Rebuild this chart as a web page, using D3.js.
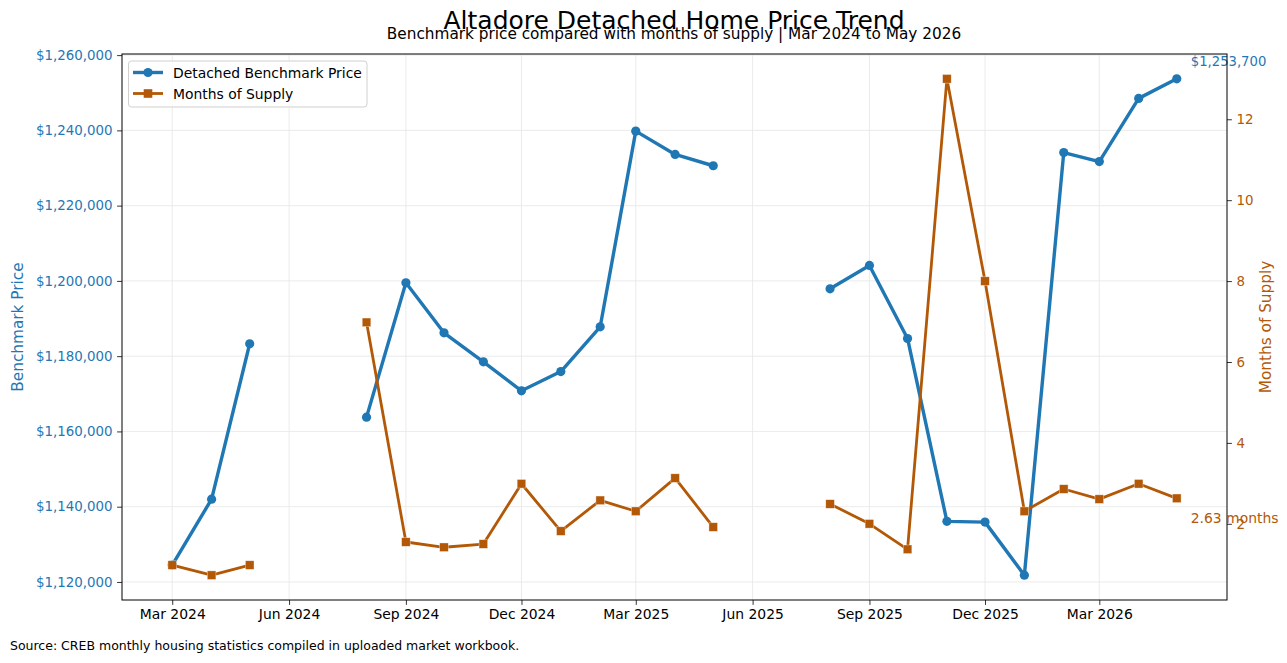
<!DOCTYPE html>
<html>
<head>
<meta charset="utf-8">
<script src="https://cdn.jsdelivr.net/npm/d3@7"></script>
<style>
  body { margin: 0; background: #fff; }
  svg { font-family: "DejaVu Sans", sans-serif; display: block; }
</style>
</head>
<body>
<script>

// Monthly observations, Mar 2024 to May 2026 (null = no data that month)
var months = ["2024-03", "2024-04", "2024-05", "2024-06", "2024-07", "2024-08", "2024-09",
              "2024-10", "2024-11", "2024-12", "2025-01", "2025-02", "2025-03", "2025-04",
              "2025-05", "2025-06", "2025-07", "2025-08", "2025-09", "2025-10", "2025-11",
              "2025-12", "2026-01", "2026-02", "2026-03", "2026-04", "2026-05"];

var benchmarkPrice = [1124500, 1142000, 1183300, null, null, 1163800, 1199500,
                      1186200, 1178500, 1170800, 1175900, 1187800, 1239800, 1233600,
                      1230600, null, null, 1197900, 1204100, 1184700, 1136100,
                      1135900, 1121800, 1234100, 1231700, 1248500, 1253700];

var monthsOfSupply = [0.98, 0.73, 0.98, null, null, 6.98, 1.55,
                      1.42, 1.50, 2.99, 1.82, 2.58, 2.31, 3.13,
                      1.92, null, null, 2.49, 2.00, 1.37, 13.0,
                      8.0, 2.31, 2.86, 2.61, 2.99, 2.63];

var priceTicks = [1120000, 1140000, 1160000, 1180000, 1200000, 1220000, 1240000, 1260000];
var supplyTicks = [2, 4, 6, 8, 10, 12];
var dateTicks = ["2024-03", "2024-06", "2024-09", "2024-12", "2025-03", "2025-06", "2025-09", "2025-12", "2026-03"];

var blue = "#1f77b4";
var orange = "#b35806";
var font = "DejaVu Sans, sans-serif";

drawChart();

function drawChart() {

  var w = 1287, h = 663;
  var margin = {left: 122, right: 60, top: 54, bottom: 63};
  var plotLeft = margin.left, plotRight = w - margin.right;
  var plotTop = margin.top, plotBottom = h - margin.bottom;

  var parseMonth = d3.timeParse("%Y-%m");

  var data = months.map(function(m, i) {
    return {date: parseMonth(m), price: benchmarkPrice[i], supply: monthsOfSupply[i]};
  });

  var svg = d3.select("body").append("svg")
    .attr("width", w)
    .attr("height", h);

  svg.append("rect").attr("width", w).attr("height", h).attr("fill", "#fff");

  // padded domains, like matplotlib's 5% margins
  function padded(lo, hi) {
    var p = (hi - lo) * 0.05;
    return [lo - p, hi + p];
  }

  var dates = data.map(d => d.date);
  var xPad = padded(d3.min(dates).getTime(), d3.max(dates).getTime());

  var xScale = d3.scaleTime()
    .domain([new Date(xPad[0]), new Date(xPad[1])])
    .range([plotLeft, plotRight]);

  var yPrice = d3.scaleLinear()
    .domain(padded(d3.min(benchmarkPrice.filter(v => v != null)), d3.max(benchmarkPrice)))
    .range([plotBottom, plotTop]);

  var ySupply = d3.scaleLinear()
    .domain(padded(d3.min(monthsOfSupply.filter(v => v != null)), d3.max(monthsOfSupply)))
    .range([plotBottom, plotTop]);

  // grid
  var grid = svg.append("g").attr("stroke", "#e6e6e6").attr("stroke-width", 0.8);
  grid.selectAll("line.gx")
    .data(dateTicks)
    .enter().append("line")
    .attr("x1", d => xScale(parseMonth(d))).attr("x2", d => xScale(parseMonth(d)))
    .attr("y1", plotTop).attr("y2", plotBottom);
  grid.selectAll("line.gy")
    .data(priceTicks)
    .enter().append("line")
    .attr("x1", plotLeft).attr("x2", plotRight)
    .attr("y1", d => yPrice(d)).attr("y2", d => yPrice(d));

  // axes
  var xAxis = d3.axisBottom(xScale)
    .tickValues(dateTicks.map(parseMonth))
    .tickFormat(d3.timeFormat("%b %Y"))
    .tickSize(4.9).tickPadding(4.5);

  var yAxisLeft = d3.axisLeft(yPrice)
    .tickValues(priceTicks)
    .tickFormat(d3.format("$,.0f"))
    .tickSize(4.9).tickPadding(4.5);

  var yAxisRight = d3.axisRight(ySupply)
    .tickValues(supplyTicks)
    .tickFormat(d3.format("d"))
    .tickSize(4.9).tickPadding(4.5);

  var gx = svg.append("g")
    .attr("transform", `translate(0, ${plotBottom})`)
    .call(xAxis);
  gx.selectAll("text").attr("fill", "#000").attr("font-size", "13.9px");

  var gl = svg.append("g")
    .attr("transform", `translate(${plotLeft}, 0)`)
    .call(yAxisLeft);
  gl.selectAll("text").attr("fill", blue).attr("font-size", "13.4px");

  [gx, gl].forEach(function(g) {
    g.attr("font-family", font);
    g.select(".domain").remove();
    g.selectAll(".tick line").attr("stroke", "#000").attr("stroke-width", 0.8);
  });

  // line generators with gaps
  var priceLine = d3.line()
    .defined(d => d.price != null)
    .x(d => xScale(d.date))
    .y(d => yPrice(d.price));

  var supplyLine = d3.line()
    .defined(d => d.supply != null)
    .x(d => xScale(d.date))
    .y(d => ySupply(d.supply));

  // price series
  svg.append("path")
    .datum(data)
    .attr("fill", "none")
    .attr("stroke", blue)
    .attr("stroke-width", 3.4)
    .attr("stroke-linejoin", "round")
    .attr("d", priceLine);

  svg.selectAll("circle.price")
    .data(data.filter(d => d.price != null))
    .enter().append("circle")
    .attr("class", "price")
    .attr("cx", d => xScale(d.date))
    .attr("cy", d => yPrice(d.price))
    .attr("r", 4.6)
    .attr("fill", blue);

  // last price label
  var lastP = data[data.length - 1];
  svg.append("text")
    .attr("x", xScale(lastP.date) + 14)
    .attr("y", yPrice(lastP.price) - 13)
    .attr("fill", blue)
    .attr("font-size", "13.2px")
    .text(d3.format("$,.0f")(lastP.price));

  // supply series (twin axis, drawn on top)
  svg.append("path")
    .datum(data)
    .attr("fill", "none")
    .attr("stroke", orange)
    .attr("stroke-width", 2.8)
    .attr("stroke-linejoin", "round")
    .attr("d", supplyLine);

  svg.selectAll("rect.supply")
    .data(data.filter(d => d.supply != null))
    .enter().append("rect")
    .attr("class", "supply")
    .attr("x", d => xScale(d.date) - 4.3)
    .attr("y", d => ySupply(d.supply) - 4.3)
    .attr("width", 8.6)
    .attr("height", 8.6)
    .attr("fill", orange)
    .attr("stroke", "#fff")
    .attr("stroke-opacity", 0.6)
    .attr("stroke-width", 0.6);

  var gr = svg.append("g")
    .attr("transform", `translate(${plotRight}, 0)`)
    .call(yAxisRight);
  gr.attr("font-family", font);
  gr.select(".domain").remove();
  gr.selectAll(".tick line").attr("stroke", "#000").attr("stroke-width", 0.8);
  gr.selectAll("text").attr("fill", orange).attr("font-size", "13.4px");

  // frame
  svg.append("rect")
    .attr("x", plotLeft).attr("y", plotTop)
    .attr("width", plotRight - plotLeft).attr("height", plotBottom - plotTop)
    .attr("fill", "none")
    .attr("stroke", "#000")
    .attr("stroke-width", 1);

  // last supply label
  svg.append("text")
    .attr("x", xScale(lastP.date) + 14)
    .attr("y", ySupply(lastP.supply) + 25)
    .attr("fill", orange)
    .attr("font-size", "13.9px")
    .text(lastP.supply.toFixed(2) + " months");

  // axis titles
  svg.append("text")
    .attr("transform", `translate(18, ${(plotTop + plotBottom) / 2}) rotate(-90)`)
    .attr("text-anchor", "middle")
    .attr("dominant-baseline", "central")
    .attr("fill", blue)
    .attr("font-size", "15.3px")
    .text("Benchmark Price");

  svg.append("text")
    .attr("transform", `translate(1266, ${(plotTop + plotBottom) / 2}) rotate(-90)`)
    .attr("text-anchor", "middle")
    .attr("dominant-baseline", "central")
    .attr("fill", orange)
    .attr("font-size", "15.3px")
    .text("Months of Supply");

  // titles
  svg.append("text")
    .attr("x", 674).attr("y", 28.5)
    .attr("text-anchor", "middle")
    .attr("font-size", "25px")
    .text("Altadore Detached Home Price Trend");

  svg.append("text")
    .attr("x", 674).attr("y", 39)
    .attr("text-anchor", "middle")
    .attr("font-size", "15.3px")
    .text("Benchmark price compared with months of supply | Mar 2024 to May 2026");

  svg.append("text")
    .attr("x", 10).attr("y", 650)
    .attr("font-size", "12.5px")
    .text("Source: CREB monthly housing statistics compiled in uploaded market workbook.");

  // legend
  var legend = svg.append("g").attr("transform", "translate(128.5, 61)");
  legend.append("rect")
    .attr("width", 238.5).attr("height", 46)
    .attr("rx", 3)
    .attr("fill", "#fff").attr("fill-opacity", 0.8)
    .attr("stroke", "#d0d0d0").attr("stroke-width", 1);

  var legendItems = [
    {label: "Detached Benchmark Price", color: blue, width: 3.4, shape: "circle"},
    {label: "Months of Supply", color: orange, width: 2.8, shape: "square"}
  ];

  legendItems.forEach(function(item, i) {
    var y = 11.5 + i * 21;
    legend.append("line")
      .attr("x1", 4.5).attr("x2", 34.5)
      .attr("y1", y).attr("y2", y)
      .attr("stroke", item.color).attr("stroke-width", item.width);
    if (item.shape == "circle") {
      legend.append("circle").attr("cx", 19.5).attr("cy", y).attr("r", 4.6).attr("fill", item.color);
    } else {
      legend.append("rect").attr("x", 15.2).attr("y", y - 4.3).attr("width", 8.6).attr("height", 8.6).attr("fill", item.color);
    }
    legend.append("text")
      .attr("x", 44.5).attr("y", y)
      .attr("dominant-baseline", "central")
      .attr("font-size", "13.9px")
      .text(item.label);
  });
}

</script>
</body>
</html>
